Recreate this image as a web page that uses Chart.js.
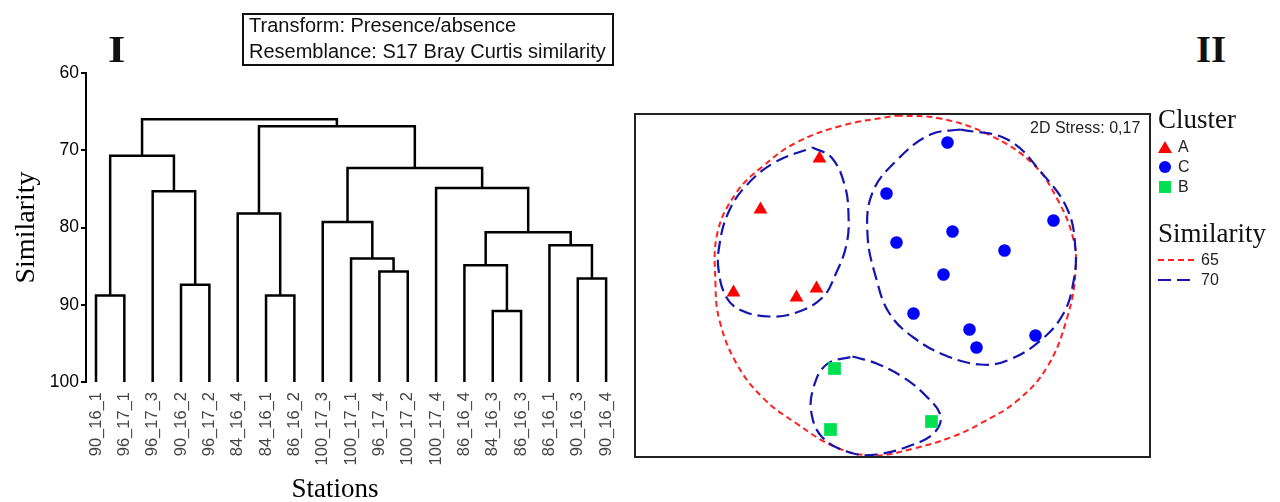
<!DOCTYPE html>
<html><head><meta charset="utf-8">
<script src="https://cdn.jsdelivr.net/npm/chart.js@4.4.1/dist/chart.umd.min.js"></script>
<style>
html,body{margin:0;padding:0;background:#fff;}
body{width:1280px;height:502px;position:relative;overflow:hidden;font-family:'Liberation Sans',Arial,sans-serif;color:#111;}
.abs{position:absolute;}
#c2wrap{left:634px;top:113px;width:513px;height:341px;border:2px solid #222;}
.serif{font-family:'Liberation Serif','Times New Roman',serif;}
.row{position:absolute;left:1158px;height:20px;display:flex;align-items:center;font-size:16px;color:#222;}
</style></head>
<body>
<canvas id="c1" class="abs" width="640" height="502" style="left:0;top:0"></canvas>
<div id="c2wrap" class="abs"><canvas id="c2" width="513" height="341"></canvas></div>

<div class="abs serif" style="left:108px;top:29px;font-size:37px;font-weight:bold;line-height:42px;transform:scaleX(1.2);transform-origin:left center">I</div>
<div class="abs serif" style="left:1196px;top:29px;font-size:37px;font-weight:bold;line-height:42px;transform:scaleX(1.05);transform-origin:left center">II</div>

<div class="abs" style="left:242px;top:13px;width:363px;height:49px;border:2px solid #111;font-size:20px;line-height:26px;padding:0 0 0 5px;box-sizing:content-box;">
<div style="margin-top:-3px">Transform: Presence/absence</div>
<div>Resemblance: S17 Bray Curtis similarity</div>
</div>

<div class="abs serif" style="left:235px;top:472px;width:200px;text-align:center;font-size:27px;line-height:32px;color:#000">Stations</div>

<div class="abs" style="left:1030px;top:119px;font-size:16px;line-height:18px;color:#222">2D Stress: 0,17</div>

<div class="abs serif" style="left:1158px;top:104px;font-size:27px;line-height:30px">Cluster</div>
<div class="row" style="top:137px"><svg width="16" height="14" style="margin-right:4px"><polygon points="7,1 14,13 0,13" fill="#ff0000"/></svg>A</div>
<div class="row" style="top:157px"><svg width="16" height="14" style="margin-right:4px"><circle cx="7" cy="7" r="6" fill="#0000ff"/></svg>C</div>
<div class="row" style="top:177px"><svg width="16" height="14" style="margin-right:4px"><rect x="1" y="1" width="12" height="12" fill="#00e050"/></svg>B</div>
<div class="abs serif" style="left:1158px;top:218px;font-size:27px;line-height:30px">Similarity</div>
<div class="row" style="top:250px"><svg width="38" height="6" style="margin-right:5px"><line x1="0" y1="3" x2="36" y2="3" stroke="#ff2020" stroke-width="2" stroke-dasharray="6,4"/></svg>65</div>
<div class="row" style="top:270px"><svg width="38" height="6" style="margin-right:5px"><line x1="0" y1="3" x2="36" y2="3" stroke="#1515b0" stroke-width="2.2" stroke-dasharray="13,6"/></svg>70</div>

<script>
// ---------- Dendrogram data ----------
const leafLabels = ["90_16_1","96_17_1","96_17_3","90_16_2","96_17_2","84_16_4","84_16_1","86_16_2",
  "100_17_3","100_17_1","96_17_4","100_17_2","100_17_4","86_16_4","84_16_3","86_16_3","86_16_1","90_16_3","90_16_4"];
// children: indices < 19 are leaves, >= 19 are earlier merges (19 + merge index)
const mergeLeft   = [0, 3, 2, 19, 6, 5, 10, 9, 8, 14, 13, 17, 16, 29, 12, 27, 24, 22];
const mergeRight  = [1, 4, 20, 21, 7, 23, 11, 25, 26, 15, 28, 18, 30, 31, 32, 33, 34, 35];
const mergeHeight = [88.8, 87.4, 75.3, 70.7, 88.8, 78.2, 85.7, 84.0, 79.3, 90.8, 84.9, 86.6, 82.3, 80.6, 74.9, 72.3, 66.9, 66.0];
const leafHeight = 100;
const yTicks = [60, 70, 80, 90, 100];

// ---------- nMDS data ----------
const clusterA = [[-0.73,1.27],[-1.32,0.76],[-1.59,-0.07],[-0.96,-0.12],[-0.76,-0.03]];
const clusterC = [[0.55,1.43],[-0.06,0.92],[1.61,0.65],[0.60,0.54],[0.04,0.43],[1.12,0.35],[0.51,0.11],[0.21,-0.28],[0.77,-0.44],[1.43,-0.50],[0.84,-0.62]];
const clusterB = [[-0.58,-0.83],[-0.62,-1.44],[0.39,-1.36]];
const contour65 = [[0.04,1.70],[0.48,1.67],[0.98,1.50],[1.41,1.21],[1.65,0.86],[1.81,0.46],[1.83,0.13],[1.75,-0.31],[1.55,-0.81],[1.25,-1.15],[0.88,-1.38],[0.58,-1.52],[0.21,-1.63],[-0.18,-1.70],[-0.56,-1.62],[-0.96,-1.38],[-1.30,-1.12],[-1.56,-0.78],[-1.73,-0.35],[-1.77,0.01],[-1.75,0.53],[-1.56,0.93],[-1.30,1.19],[-0.96,1.43],[-0.50,1.60]];
const contour70A = [[-0.80,1.38],[-0.61,1.28],[-0.48,1.01],[-0.44,0.71],[-0.46,0.41],[-0.57,0.11],[-0.70,-0.12],[-0.96,-0.27],[-1.23,-0.31],[-1.51,-0.25],[-1.66,-0.12],[-1.74,0.16],[-1.73,0.41],[-1.65,0.71],[-1.48,0.98],[-1.18,1.23]];
const contour70C = [[0.68,1.56],[1.15,1.46],[1.48,1.14],[1.75,0.76],[1.83,0.36],[1.81,0.04],[1.71,-0.28],[1.48,-0.55],[1.15,-0.75],[0.88,-0.79],[0.53,-0.70],[0.21,-0.52],[-0.03,-0.28],[-0.16,0.06],[-0.25,0.51],[-0.20,0.93],[0.05,1.26],[0.38,1.51]];
const contour70B = [[-0.40,-0.71],[-0.16,-0.78],[0.11,-0.92],[0.33,-1.10],[0.48,-1.30],[0.42,-1.47],[0.21,-1.59],[-0.16,-1.69],[-0.43,-1.67],[-0.70,-1.52],[-0.81,-1.28],[-0.79,-1.02],[-0.66,-0.79]];

// ---------- build dendrogram links ----------
const nLeaves = leafLabels.length;
const nodeX = [], nodeH = [];
for (let i = 0; i < nLeaves; i++) { nodeX.push(i); nodeH.push(leafHeight); }
const linkSets = [];
for (let m = 0; m < mergeHeight.length; m++) {
  const a = mergeLeft[m], b = mergeRight[m], h = mergeHeight[m];
  linkSets.push({
    data: [{x: nodeX[a], y: nodeH[a]}, {x: nodeX[a], y: h}, {x: nodeX[b], y: h}, {x: nodeX[b], y: nodeH[b]}],
    showLine: true, borderColor: '#000', borderWidth: 2.5, pointRadius: 0, tension: 0,
    borderJoinStyle: 'miter', borderCapStyle: 'butt'
  });
  nodeX.push((nodeX[a] + nodeX[b]) / 2);
  nodeH.push(h);
}

new Chart(document.getElementById('c1'), {
  type: 'scatter',
  data: { datasets: linkSets },
  options: {
    responsive: false, animation: false, devicePixelRatio: 1,
    layout: { padding: { left: 0, top: 73, right: 20, bottom: 0 }, autoPadding: false },
    plugins: { legend: { display: false }, tooltip: { enabled: false } },
    scales: {
      x: {
        type: 'linear', min: -0.353, max: 18.49,
        afterFit: s => { s.height = 120; },
        afterBuildTicks: s => { s.ticks = leafLabels.map((_, i) => ({ value: i })); },
        ticks: {
          autoSkip: false, maxRotation: 90, minRotation: 90, padding: 10,
          color: '#444', font: { family: "'Liberation Sans', Arial, sans-serif", size: 16.5 },
          callback: v => leafLabels[v]
        },
        grid: { display: false, drawTicks: false },
        border: { display: false },
        title: { display: false }
      },
      y: {
        type: 'linear', reverse: true, min: 60, max: 100,
        afterFit: s => { s.width = 86; },
        afterBuildTicks: s => { s.ticks = yTicks.map(v => ({ value: v })); },
        ticks: { padding: 2, color: '#000', font: { family: "'Liberation Sans', Arial, sans-serif", size: 17.5 } },
        grid: { drawOnChartArea: false, drawTicks: true, tickLength: 5, color: '#000', lineWidth: 2 },
        border: { display: true, color: '#000', width: 2 },
        title: { display: true, text: 'Similarity', color: '#000', padding: { top: 13, bottom: 0 },
          font: { family: "'Liberation Serif', 'Times New Roman', serif", size: 28, lineHeight: 1 } }
      }
    }
  }
});

// ---------- nMDS plot ----------
const toPts = arr => arr.map(p => ({ x: p[0], y: p[1] }));
const closed = arr => toPts(arr.concat([arr[0]]));
const contourStyle = (color, dash, w) => ({ showLine: true, borderColor: color, borderDash: dash, borderWidth: w,
  pointRadius: 0, tension: 0.4, fill: false });

new Chart(document.getElementById('c2'), {
  type: 'scatter',
  data: {
    datasets: [
      { label: 'A', data: toPts(clusterA), pointStyle: 'triangle', pointRadius: 8, backgroundColor: '#ff0000', borderColor: '#ff0000', borderWidth: 0 },
      { label: 'C', data: toPts(clusterC), pointStyle: 'circle', pointRadius: 6.3, backgroundColor: '#0000ff', borderColor: '#0000ff', borderWidth: 0 },
      { label: 'B', data: toPts(clusterB), pointStyle: 'rect', pointRadius: 9, backgroundColor: '#00e050', borderColor: '#00e050', borderWidth: 0 },
      Object.assign({ label: '70', data: closed(contour70A) }, contourStyle('#1515b0', [13, 6], 2.2)),
      Object.assign({ label: '70', data: closed(contour70C) }, contourStyle('#1515b0', [13, 6], 2.2)),
      Object.assign({ label: '70', data: closed(contour70B) }, contourStyle('#1515b0', [13, 6], 2.2)),
      Object.assign({ label: '65', data: closed(contour65) }, contourStyle('#ff2020', [6, 4], 2))
    ]
  },
  options: {
    responsive: false, animation: false, devicePixelRatio: 1,
    layout: { padding: 0, autoPadding: false },
    plugins: { legend: { display: false }, tooltip: { enabled: false } },
    scales: {
      x: { type: 'linear', display: false, min: -2.565, max: 2.565 },
      y: { type: 'linear', display: false, min: -1.705, max: 1.705 }
    }
  }
});
</script>
</body></html>
